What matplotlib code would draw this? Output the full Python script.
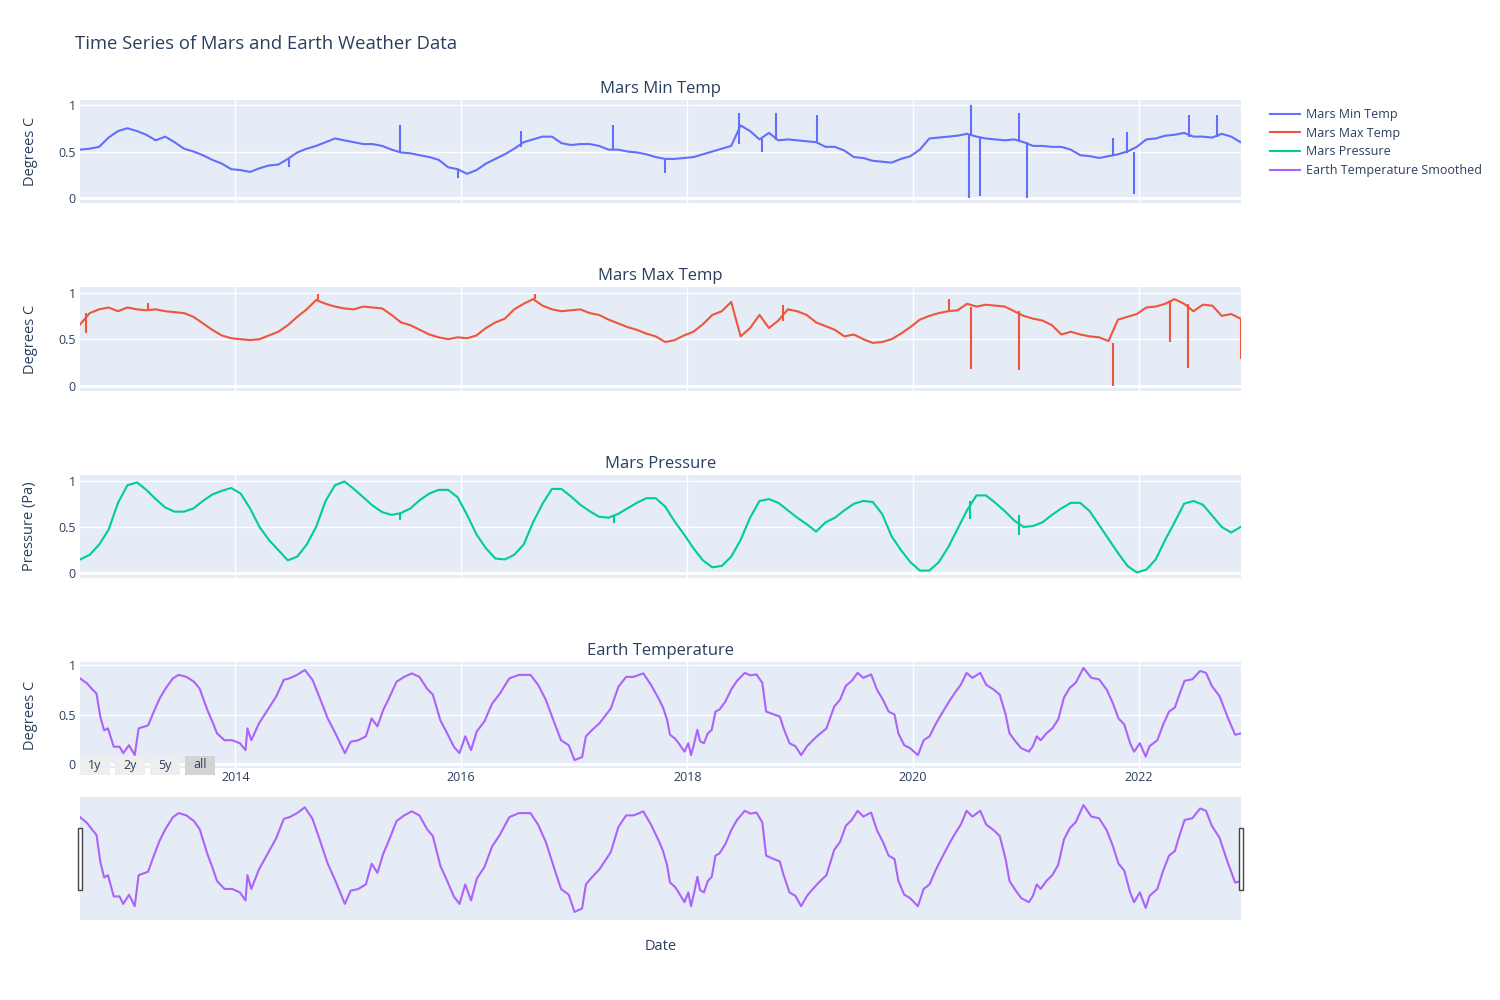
import matplotlib
matplotlib.use('Agg')
import matplotlib.pyplot as plt
import matplotlib.dates as mdates
from matplotlib.patches import Rectangle
import numpy as np
import pandas as pd

plt.rcParams['font.family'] = ['Open Sans', 'DejaVu Sans']

# roughly monthly samples for the Mars series
mars_min = [
    0.52, 0.53, 0.55, 0.65, 0.72, 0.75, 0.72, 0.68, 0.62, 0.66,
    0.60, 0.53, 0.50, 0.46, 0.41, 0.37, 0.31, 0.30, 0.28, 0.32,
    0.35, 0.36, 0.42, 0.49, 0.53, 0.56, 0.60, 0.64, 0.62, 0.60,
    0.58, 0.58, 0.56, 0.52, 0.49, 0.48, 0.46, 0.44, 0.41, 0.33,
    0.31, 0.26, 0.30, 0.37, 0.42, 0.47, 0.53, 0.60, 0.63, 0.66,
    0.66, 0.59, 0.57, 0.58, 0.58, 0.56, 0.52, 0.52, 0.50, 0.49,
    0.47, 0.44,
    0.42, 0.42, 0.43, 0.44, 0.47, 0.50, 0.53, 0.56,
    0.78, 0.72, 0.63, 0.70, 0.62, 0.63, 0.62, 0.61, 0.60, 0.55,
    0.55, 0.51, 0.44, 0.43, 0.40, 0.39, 0.38, 0.42, 0.45, 0.52,
    0.64, 0.65, 0.66, 0.67, 0.69, 0.66, 0.64, 0.63, 0.62, 0.63,
    0.60, 0.56, 0.56, 0.55, 0.55, 0.52, 0.46, 0.45, 0.43, 0.45,
    0.47, 0.50, 0.55, 0.63, 0.64, 0.67, 0.68, 0.70, 0.66, 0.66,
    0.65, 0.69, 0.66, 0.60,
]
mars_max = [
    0.66, 0.78, 0.82, 0.84, 0.80, 0.84, 0.82, 0.81, 0.82, 0.80,
    0.79, 0.78, 0.74, 0.67, 0.60, 0.54, 0.51, 0.50, 0.49, 0.50,
    0.54, 0.58, 0.65, 0.74, 0.82, 0.92, 0.88, 0.85, 0.83, 0.82,
    0.85, 0.84, 0.83, 0.76, 0.68, 0.65, 0.60, 0.55, 0.52, 0.50,
    0.52, 0.51, 0.54, 0.62, 0.68, 0.72, 0.82, 0.88, 0.93, 0.86,
    0.82, 0.80, 0.81, 0.82, 0.78, 0.76, 0.71, 0.67, 0.63, 0.60,
    0.56, 0.53,
    0.47, 0.49, 0.54, 0.58, 0.66, 0.76, 0.80, 0.90,
    0.53, 0.62, 0.76, 0.62, 0.70, 0.82, 0.80, 0.76, 0.68, 0.64,
    0.60, 0.53, 0.55, 0.50, 0.46, 0.47, 0.50, 0.56, 0.63, 0.71,
    0.75, 0.78, 0.80, 0.81, 0.88, 0.85, 0.87, 0.86, 0.85, 0.80,
    0.75, 0.72, 0.70, 0.65, 0.55, 0.58, 0.55, 0.53, 0.52, 0.48,
    0.71, 0.74, 0.77, 0.84, 0.85, 0.88, 0.93, 0.88, 0.80, 0.87,
    0.86, 0.75, 0.77, 0.72,
]
mars_pressure = [
    0.15, 0.20, 0.31, 0.47, 0.76, 0.95, 0.98, 0.90, 0.80, 0.71,
    0.665, 0.665, 0.70, 0.78, 0.85, 0.89, 0.92, 0.86, 0.70, 0.50,
    0.36, 0.25, 0.14, 0.18, 0.31, 0.50, 0.78, 0.95, 0.99, 0.91,
    0.82, 0.73, 0.66, 0.63, 0.65, 0.70, 0.79, 0.86, 0.90, 0.90,
    0.82, 0.63, 0.42, 0.27, 0.16, 0.15, 0.20, 0.31, 0.55, 0.75,
    0.91, 0.91, 0.83, 0.74, 0.67, 0.61, 0.60, 0.64, 0.70, 0.76,
    0.81, 0.81,
    0.72, 0.56, 0.42, 0.27, 0.14, 0.065, 0.08, 0.18,
    0.36, 0.60, 0.78, 0.80, 0.76, 0.68, 0.60, 0.53, 0.45, 0.55,
    0.60, 0.68, 0.75, 0.78, 0.77, 0.64, 0.40, 0.25, 0.12, 0.03,
    0.03, 0.12, 0.28, 0.48, 0.68, 0.84, 0.84, 0.76, 0.67, 0.57,
    0.50, 0.51, 0.55, 0.63, 0.70, 0.76, 0.76, 0.67, 0.52, 0.37,
    0.22, 0.08, 0.01, 0.04, 0.15, 0.36, 0.55, 0.75, 0.78, 0.74,
    0.62, 0.50, 0.44, 0.50,
]
mars_dates = pd.date_range('2012-08-18', '2022-11-25', periods=len(mars_min))

# single-day spikes: decimal year, level before the spike, tip of the spike
min_spike_year = [2014.48, 2015.46, 2015.97, 2016.53, 2017.34, 2017.80, 2018.46, 2018.66,
                  2018.79, 2019.15, 2020.49, 2020.51, 2020.59, 2020.94, 2021.01, 2021.77,
                  2021.89, 2021.95, 2022.44, 2022.69]
min_spike_base = [0.42, 0.50, 0.30, 0.55, 0.53, 0.42, 0.58, 0.63,
                  0.62, 0.60, 0.69, 0.69, 0.64, 0.62, 0.60, 0.45,
                  0.48, 0.50, 0.66, 0.66]
min_spike_tip = [0.33, 0.78, 0.21, 0.72, 0.79, 0.27, 0.91, 0.50,
                 0.91, 0.89, 0.0, 1.0, 0.02, 0.91, 0.0, 0.64,
                 0.71, 0.04, 0.89, 0.89]

max_spike_year = [2012.68, 2013.23, 2014.73, 2016.65, 2018.85, 2020.32, 2020.51, 2020.94,
                  2021.77, 2022.27, 2022.43, 2022.90]
max_spike_base = [0.78, 0.82, 0.92, 0.93, 0.70, 0.80, 0.85, 0.80, 0.46, 0.90, 0.88, 0.72]
max_spike_tip = [0.57, 0.89, 0.98, 0.98, 0.87, 0.93, 0.18, 0.17, 0.0, 0.47, 0.19, 0.29]

pres_spike_year = [2015.46, 2017.35, 2020.50, 2020.94]
pres_spike_base = [0.65, 0.62, 0.78, 0.63]
pres_spike_tip = [0.58, 0.54, 0.59, 0.41]

# Earth temperature (smoothed), read point by point
earth_year = [
    2012.626, 2012.687, 2012.738, 2012.772, 2012.805, 2012.839, 2012.873, 2012.924, 2012.975, 2013.008,
    2013.059, 2013.110, 2013.144, 2013.228, 2013.279, 2013.330, 2013.381, 2013.448, 2013.499, 2013.567,
    2013.635, 2013.685, 2013.753, 2013.804, 2013.838, 2013.905, 2013.973, 2014.041, 2014.091, 2014.108,
    2014.142, 2014.210, 2014.294, 2014.362, 2014.430, 2014.481, 2014.548, 2014.616, 2014.684, 2014.751,
    2014.819, 2014.887, 2014.971, 2015.022, 2015.090, 2015.157, 2015.208, 2015.259, 2015.310, 2015.360,
    2015.428, 2015.496, 2015.563, 2015.631, 2015.699, 2015.750, 2015.817, 2015.868, 2015.936, 2015.986,
    2016.037, 2016.088, 2016.139, 2016.206, 2016.274, 2016.342, 2016.426, 2016.511, 2016.613, 2016.680,
    2016.748, 2016.816, 2016.883, 2016.951, 2017.002, 2017.069, 2017.103, 2017.154, 2017.222, 2017.323,
    2017.391, 2017.459, 2017.526, 2017.611, 2017.679, 2017.752, 2017.786, 2017.821, 2017.848, 2017.890,
    2017.924, 2017.976, 2018.010, 2018.034, 2018.062, 2018.090, 2018.114, 2018.148, 2018.183, 2018.217,
    2018.251, 2018.286, 2018.338, 2018.389, 2018.441, 2018.510, 2018.561, 2018.613, 2018.665, 2018.699,
    2018.768, 2018.820, 2018.854, 2018.906, 2018.958, 2019.009, 2019.061, 2019.113, 2019.164, 2019.233,
    2019.302, 2019.354, 2019.405, 2019.457, 2019.509, 2019.560, 2019.629, 2019.681, 2019.733, 2019.784,
    2019.836, 2019.870, 2019.922, 2019.974, 2020.043, 2020.094, 2020.146, 2020.198, 2020.249, 2020.318,
    2020.370, 2020.422, 2020.473, 2020.525, 2020.594, 2020.646, 2020.714, 2020.766, 2020.818, 2020.852,
    2020.904, 2020.956, 2021.024, 2021.059, 2021.093, 2021.128, 2021.179, 2021.231, 2021.283, 2021.334,
    2021.386, 2021.438, 2021.507, 2021.576, 2021.645, 2021.713, 2021.765, 2021.817, 2021.868, 2021.920,
    2021.955, 2022.006, 2022.058, 2022.092, 2022.161, 2022.213, 2022.265, 2022.316, 2022.351, 2022.402,
    2022.471, 2022.540, 2022.592, 2022.643, 2022.712, 2022.781, 2022.850, 2022.902,
]
earth_temp = [
    0.865, 0.815, 0.75, 0.71, 0.48, 0.34, 0.36, 0.175, 0.175, 0.11,
    0.19, 0.09, 0.36, 0.39, 0.53, 0.66, 0.76, 0.865, 0.90, 0.88,
    0.83, 0.76, 0.545, 0.41, 0.31, 0.24, 0.24, 0.21, 0.14, 0.36,
    0.24, 0.41, 0.56, 0.68, 0.85, 0.865, 0.90, 0.95, 0.85, 0.66,
    0.46, 0.31, 0.11, 0.225, 0.24, 0.28, 0.46, 0.38, 0.545, 0.66,
    0.83, 0.88, 0.915, 0.88, 0.76, 0.70, 0.44, 0.33, 0.175, 0.11,
    0.28, 0.14, 0.33, 0.43, 0.61, 0.71, 0.865, 0.90, 0.90, 0.80,
    0.65, 0.44, 0.24, 0.19, 0.04, 0.07, 0.28, 0.34, 0.41, 0.56,
    0.78, 0.88, 0.88, 0.915, 0.80, 0.65, 0.57, 0.45, 0.295, 0.26,
    0.21, 0.125, 0.21, 0.09, 0.21, 0.345, 0.23, 0.21, 0.31, 0.345,
    0.53, 0.55, 0.63, 0.75, 0.84, 0.92, 0.895, 0.905, 0.82, 0.53,
    0.50, 0.48, 0.36, 0.21, 0.18, 0.09, 0.18, 0.24, 0.295, 0.36,
    0.58, 0.65, 0.79, 0.84, 0.92, 0.87, 0.905, 0.75, 0.65, 0.53,
    0.50, 0.31, 0.19, 0.16, 0.09, 0.24, 0.28, 0.40, 0.50, 0.63,
    0.72, 0.80, 0.92, 0.87, 0.92, 0.80, 0.75, 0.70, 0.50, 0.31,
    0.23, 0.16, 0.125, 0.18, 0.28, 0.24, 0.31, 0.36, 0.45, 0.67,
    0.77, 0.82, 0.97, 0.87, 0.855, 0.75, 0.62, 0.46, 0.40, 0.21,
    0.125, 0.21, 0.075, 0.18, 0.24, 0.40, 0.53, 0.57, 0.685, 0.84,
    0.855, 0.94, 0.92, 0.79, 0.685, 0.48, 0.295, 0.31,
]


def to_date(y):
    yr = int(y)
    start = pd.Timestamp(yr, 1, 1)
    return start + (pd.Timestamp(yr + 1, 1, 1) - start) * (y - yr)


earth_dates = [to_date(y) for y in earth_year]

colors = ['#636efa', '#EF553B', '#00cc96', '#ab63fa']
txt = '#2a3f5f'
bg = '#E5ECF6'
W, H = 1500, 1000
LW = 1.5

fig = plt.figure(figsize=(15, 10), dpi=100)


def px_axes(x0, y0, x1, y1):
    return fig.add_axes([x0 / W, 1 - y1 / H, (x1 - x0) / W, (y1 - y0) / H])


xmin, xmax = to_date(2012.626), to_date(2022.902)

panels = [
    ('Mars Min Temp', 'Degrees C', 100, 203, (-0.054, 1.054)),
    ('Mars Max Temp', 'Degrees C', 287, 391, (-0.056, 1.06)),
    ('Mars Pressure', 'Pressure (Pa)', 475, 578, (-0.05, 1.06)),
    ('Earth Temperature', 'Degrees C', 662, 768, (-0.04, 1.03)),
]
series = [
    (mars_dates, mars_min, min_spike_year, min_spike_base, min_spike_tip),
    (mars_dates, mars_max, max_spike_year, max_spike_base, max_spike_tip),
    (mars_dates, mars_pressure, pres_spike_year, pres_spike_base, pres_spike_tip),
    (earth_dates, earth_temp, [], [], []),
]
names = ['Mars Min Temp', 'Mars Max Temp', 'Mars Pressure', 'Earth Temperature Smoothed']

handles = []
for k, ((title, ylab, top, bot, ylim), (xd, yd, sy, sb, st)) in enumerate(zip(panels, series)):
    ax = px_axes(80, top, 1241, bot)
    ax.set_facecolor(bg)
    for s in ax.spines.values():
        s.set_visible(False)
    line, = ax.plot(xd, yd, color=colors[k], lw=LW, zorder=3)
    handles.append(line)
    if sy:
        ax.vlines([to_date(v) for v in sy], sb, st, color=colors[k], lw=LW, zorder=3)
    ax.set_xlim(xmin, xmax)
    ax.set_ylim(*ylim)
    ax.set_yticks([0, 0.5, 1])
    ax.set_yticklabels(['0', '0.5', '1'])
    ax.xaxis.set_major_locator(mdates.YearLocator(2))
    ax.xaxis.set_major_formatter(mdates.DateFormatter('%Y'))
    ax.grid(True, color='white', lw=1)
    ax.set_axisbelow(True)
    ax.axhline(0, color='white', lw=2, zorder=1)
    ax.tick_params(length=0, labelsize=9, colors=txt, pad=3)
    if k < 3:
        ax.tick_params(axis='x', labelbottom=False)
    else:
        ax.tick_params(axis='x', pad=2)
    fig.text(660.5 / W, 1 - (top - 11) / H, title, ha='center', va='center', fontsize=12, color=txt)
    fig.text(30 / W, 1 - (top + bot) / 2 / H, ylab, ha='center', va='center', rotation=90,
             fontsize=10.5, color=txt)

# range slider below the last panel
rs = px_axes(80, 797, 1241, 920)
rs.set_facecolor(bg)
for s in rs.spines.values():
    s.set_visible(False)
rs.plot(earth_dates, earth_temp, color=colors[3], lw=LW)
rs.set_xlim(xmin, xmax)
rs.set_ylim(-0.03, 1.04)
rs.set_xticks([])
rs.set_yticks([])
for hx in (78, 1239):
    fig.add_artist(Rectangle((hx / W, 1 - 890 / H), 4 / W, 62 / H, transform=fig.transFigure,
                             facecolor='white', edgecolor='#444444', lw=1, zorder=5))

# range selector buttons
for label, bx, face in [('1y', 80, '#eeeeee'), ('2y', 115, '#eeeeee'),
                        ('5y', 150, '#eeeeee'), ('all', 185, '#d4d4d4')]:
    fig.add_artist(Rectangle((bx / W, 1 - 775 / H), 30 / W, 19 / H, transform=fig.transFigure,
                             facecolor=face, edgecolor='none', zorder=6))
    fig.text((bx + 15) / W, 1 - 765 / H, label, ha='center', va='center', fontsize=9,
             color=txt, zorder=7)

fig.text(75 / W, 1 - 44 / H, 'Time Series of Mars and Earth Weather Data', ha='left', va='center',
         fontsize=13.3, color=txt)
fig.text(660.5 / W, 1 - 946 / H, 'Date', ha='center', va='center', fontsize=10.5, color=txt)

fig.legend(handles, names, loc='upper left', bbox_to_anchor=(1265 / W, 1 - 103 / H),
           frameon=False, fontsize=9, handlelength=2.4, labelspacing=0.45,
           handletextpad=0.5, borderaxespad=0, labelcolor=txt)

fig.savefig('out.png', dpi=100)
